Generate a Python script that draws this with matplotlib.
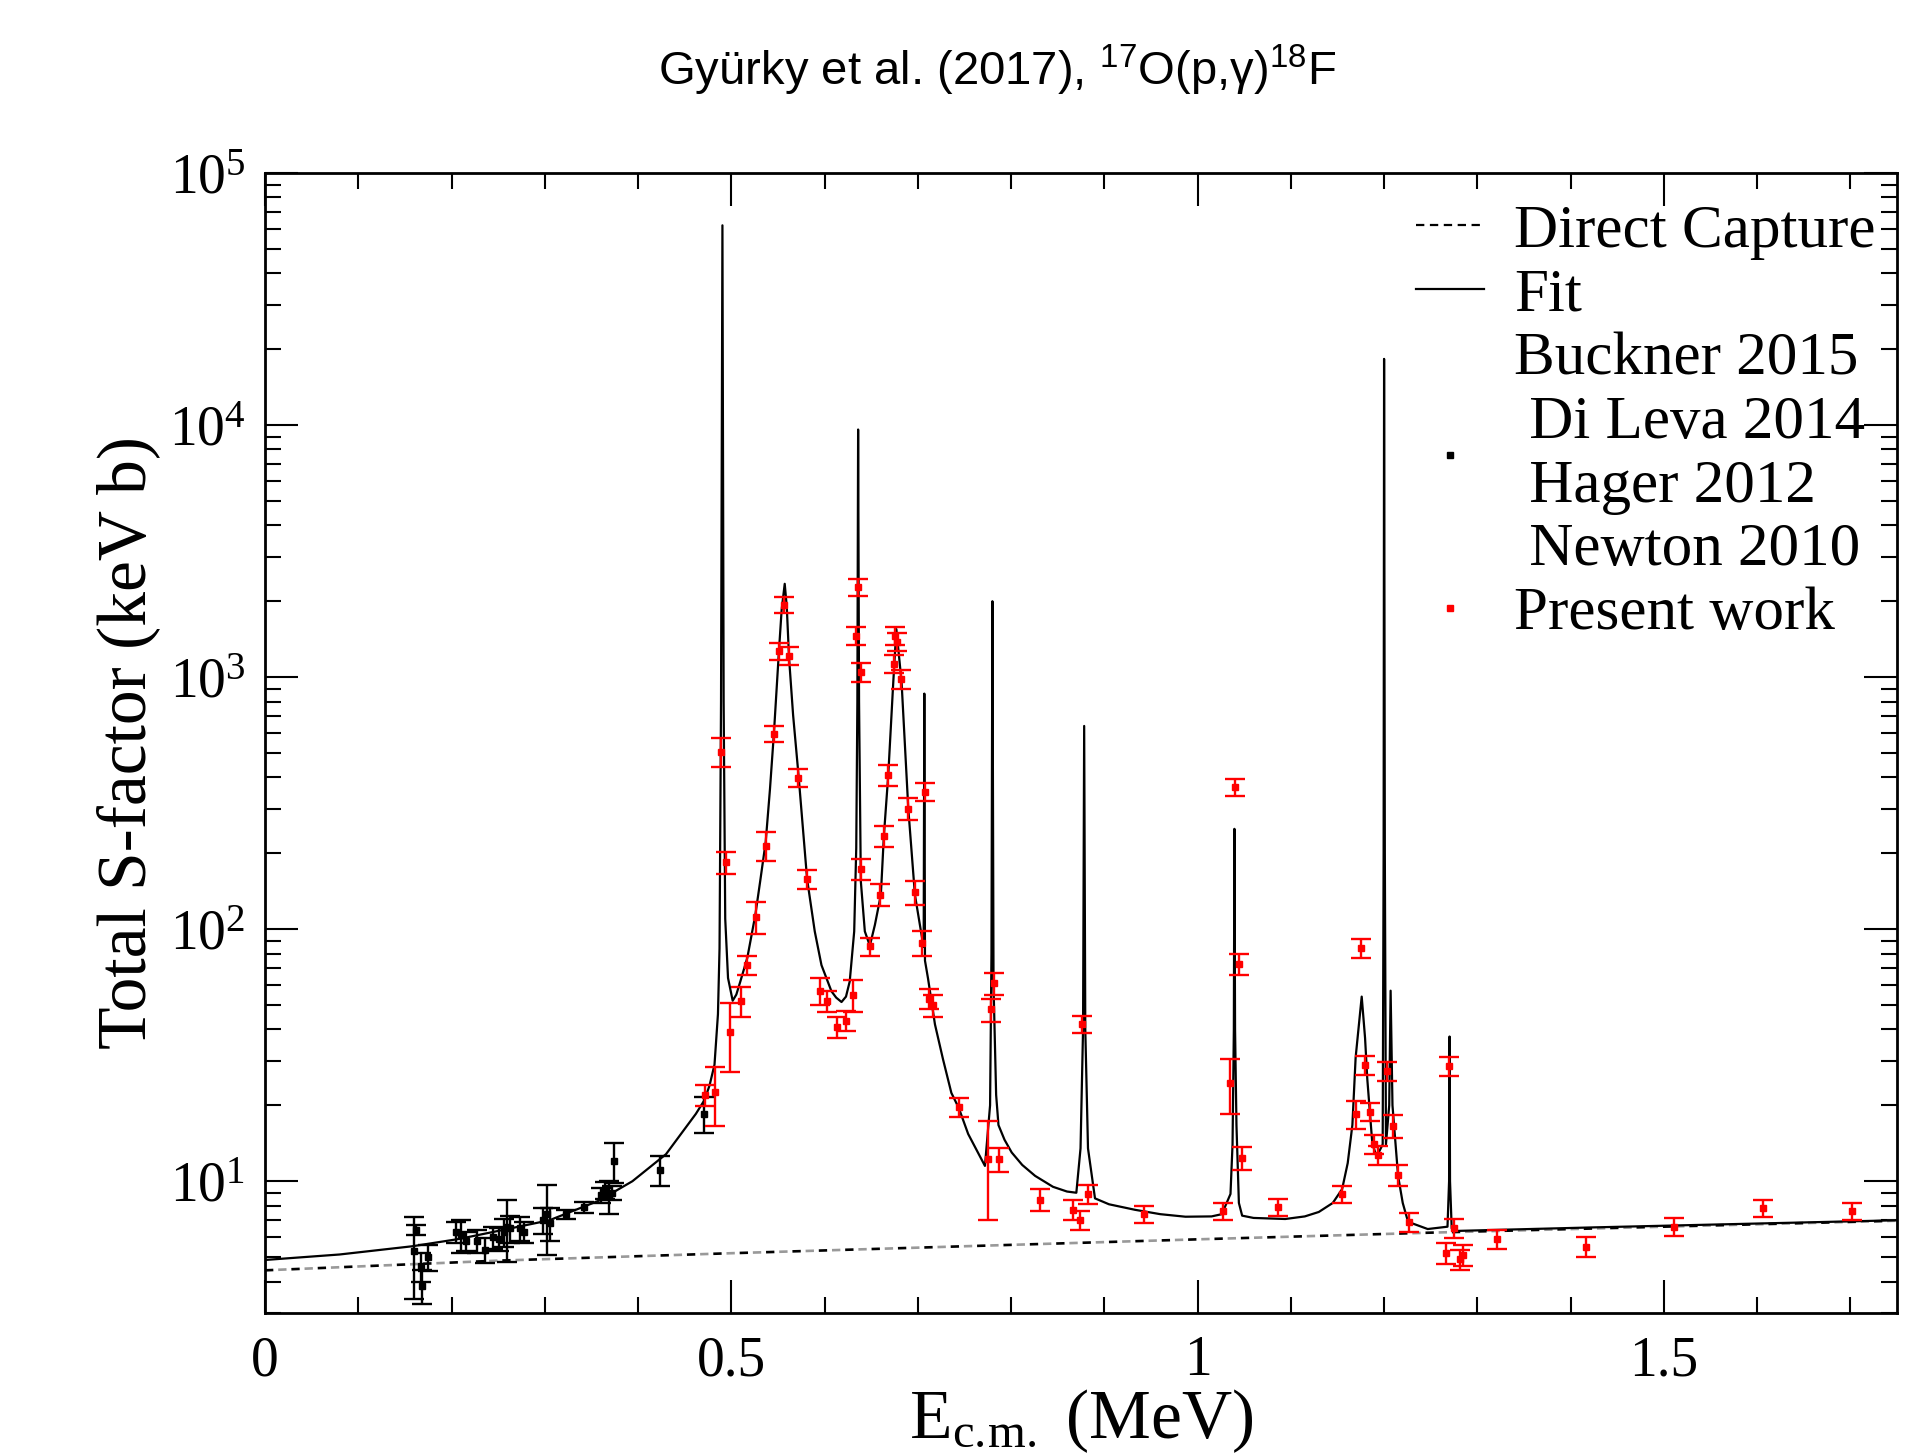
import matplotlib
matplotlib.use("Agg")
import matplotlib.pyplot as plt
from matplotlib.lines import Line2D
from matplotlib.legend_handler import HandlerLine2D
from matplotlib.ticker import MultipleLocator, FuncFormatter, LogLocator

plt.rcParams['font.family'] = ['Liberation Serif', 'DejaVu Serif']
plt.rcParams['mathtext.default'] = 'regular'
plt.rcParams['lines.scale_dashes'] = False

# Direct capture curve
dc_E = [0.00, 0.25, 0.50, 0.75, 1.00, 1.25, 1.50, 1.75]
dc_S = [4.43, 4.84, 5.18, 5.52, 5.88, 6.25, 6.60, 6.97]

# R-matrix fit
fit_E = [0.000, 0.080, 0.158, 0.208, 0.251, 0.305, 0.358, 0.394, 0.430, 0.462,
         0.4713, 0.4767, 0.482, 0.4857, 0.4874, 0.4890, 0.4905, 0.4918, 0.4935, 0.4965,
         0.5015, 0.5054, 0.5097, 0.5172, 0.5258, 0.5310, 0.5369, 0.5415, 0.5458, 0.5508,
         0.5540, 0.5573, 0.5595, 0.5620, 0.5663, 0.5723, 0.5813, 0.5895, 0.5967, 0.6074,
         0.6125, 0.6182, 0.6230, 0.6270, 0.6318, 0.6340, 0.6352, 0.6360, 0.6370, 0.6389,
         0.6432, 0.6486, 0.6540, 0.6604, 0.6636, 0.6683, 0.6737, 0.6770, 0.6826, 0.6898,
         0.6969, 0.7040, 0.7063, 0.7070, 0.7077, 0.7110, 0.7184, 0.7270, 0.7360, 0.7440,
         0.7540, 0.7630, 0.7720, 0.7775, 0.7790, 0.7800, 0.7812, 0.7840, 0.7865, 0.7930,
         0.8007, 0.8120, 0.8258, 0.8450, 0.8600, 0.8700, 0.8745, 0.8772, 0.8784, 0.8796,
         0.8825, 0.8900, 0.9050, 0.9330, 0.9600, 0.9870, 1.0150, 1.0260, 1.0353, 1.0375,
         1.0389, 1.0395, 1.0402, 1.0417, 1.0443, 1.0478, 1.0600, 1.0940, 1.1150, 1.1300,
         1.1450, 1.1550, 1.1610, 1.1660, 1.1695, 1.1760, 1.1796, 1.1820, 1.1874, 1.1920,
         1.1985, 1.1995, 1.2000, 1.2008, 1.2020, 1.2055, 1.2070, 1.2090, 1.2150, 1.2200,
         1.2257, 1.2468, 1.2680, 1.2697, 1.2702, 1.2707, 1.2725, 1.2780, 1.4260, 1.7500]
fit_S = [4.87, 5.12, 5.52, 5.90, 6.36, 7.00, 8.37, 10.0, 12.8, 18.5,
         21.0, 24.0, 29.0, 46.0, 84.0, 800, 62000, 800, 110, 64,
         52, 55, 62, 77, 114, 155, 222, 360, 606, 1218,
         1850, 2345, 1900, 1183, 706, 400, 158, 98, 72, 56.7,
         53.5, 51.4, 54, 62, 98, 210, 800, 9600, 800, 155,
         98, 86, 104, 137, 234, 408, 955, 1550, 955, 301,
         137, 95, 85, 860, 75, 63.6, 41.9, 30.5, 22.4, 19.5,
         15.4, 13.3, 11.5, 20, 80, 2000, 60, 22, 16.7, 14.6,
         13.0, 11.6, 10.5, 9.5, 9.1, 9.0, 13.5, 40, 640, 40,
         13.5, 8.55, 8.1, 7.7, 7.4, 7.23, 7.25, 7.4, 8.9, 14,
         40, 250, 40, 16.7, 8.2, 7.3, 7.15, 7.08, 7.25, 7.55,
         8.2, 9.3, 11.8, 16.7, 31, 54, 37, 25.4, 14.1, 12.5,
         14, 200, 18300, 200, 14, 20, 57, 20, 10.5, 8.2,
         6.9, 6.46, 6.6, 10, 37.5, 10, 6.5, 6.35, 6.56, 7.0]

# literature data (black)
lit_E = [0.160, 0.162, 0.167, 0.168, 0.175, 0.205, 0.210, 0.216, 0.227, 0.236,
         0.245, 0.251, 0.256, 0.259, 0.263, 0.273, 0.278, 0.298, 0.302, 0.306,
         0.323, 0.342, 0.360, 0.365, 0.369, 0.372, 0.374, 0.424, 0.471]
lit_S = [5.3, 6.4, 4.6, 3.85, 5.0, 6.3, 6.1, 5.8, 5.8, 5.35,
         6.0, 5.9, 6.3, 6.6, 6.5, 6.5, 6.3, 7.0, 7.4, 6.8,
         7.4, 7.9, 8.8, 9.2, 8.7, 9.0, 12.0, 11.1, 18.5]
lit_err = [1.9, 0.3, 0.6, 0.6, 0.6, 0.6, 0.9, 0.5, 0.6, 0.6,
           0.6, 0.6, 0.8, 1.8, 0.8, 0.7, 0.6, 0.8, 2.3, 1.0,
           0.3, 0.4, 0.6, 0.7, 1.3, 0.6, 2.2, 1.5, 3.0]

# present work (red)
pw_E = [0.472, 0.483, 0.489, 0.494, 0.499, 0.510, 0.517, 0.526, 0.537, 0.546,
        0.551, 0.556, 0.562, 0.572, 0.581, 0.595, 0.603, 0.613, 0.623, 0.631,
        0.634, 0.636, 0.639, 0.6395, 0.649, 0.660, 0.664, 0.668, 0.675, 0.676,
        0.678, 0.682, 0.689, 0.697, 0.704, 0.708, 0.712, 0.716, 0.744, 0.775,
        0.778, 0.782, 0.787, 0.831, 0.866, 0.874, 0.876, 0.883, 0.943, 1.027,
        1.035, 1.040, 1.044, 1.048, 1.086, 1.155, 1.170, 1.175, 1.180, 1.185,
        1.189, 1.194, 1.2035, 1.210, 1.215, 1.227, 1.266, 1.270, 1.275, 1.281,
        1.285, 1.321, 1.417, 1.511, 1.606, 1.702]
pw_S = [22, 22.5, 506, 184, 39, 52, 72, 112, 214, 596,
        1268, 1935, 1213, 399, 158, 57, 52, 41, 43.4, 55,
        1462, 2275, 1048, 173, 85.5, 137, 234, 408, 1130, 1462,
        1380, 986, 301, 140, 88, 351, 53, 50, 19.7, 12.2,
        48, 61, 12.2, 8.45, 7.7, 7.0, 42, 8.9, 7.4, 7.6,
        24.5, 365, 73, 12.4, 7.9, 8.9, 18.5, 84, 28.8, 18.9,
        14, 12.7, 27.4, 16.6, 10.6, 6.9, 5.2, 28.6, 6.5, 4.9,
        5.1, 5.9, 5.5, 6.6, 7.8, 7.6]
pw_err = [2.1, 6.0, 65, 18, 12, 7, 6, 16, 28, 45,
          100, 140, 100, 34, 14, 7, 5, 4, 4, 8,
          120, 170, 90, 17, 7, 14, 22, 38, 95, 120,
          110, 85, 30, 15, 10, 30, 5, 5, 1.7, 5.2,
          5, 6, 1.3, 0.85, 0.7, 0.6, 3.2, 0.8, 0.6, 0.6,
          6, 28, 7, 1.3, 0.6, 0.7, 2.4, 7, 2.5, 1.6,
          1.2, 1.1, 2.4, 1.7, 1.0, 0.6, 0.5, 2.5, 0.55, 0.45,
          0.5, 0.5, 0.5, 0.55, 0.6, 0.6]


class ShiftedHandler(HandlerLine2D):
    # legend marker drawn lower than its text row, as in the original figure
    def __init__(self, dy, **kw):
        super().__init__(**kw)
        self.dy = dy

    def create_artists(self, legend, orig_handle, xdescent, ydescent,
                       width, height, fontsize, trans):
        return super().create_artists(legend, orig_handle, xdescent,
                                      ydescent + self.dy, width, height,
                                      fontsize, trans)


fig = plt.figure(figsize=(19.21, 14.55), dpi=100)
ax = fig.add_axes([265 / 1921, 1 - 1313 / 1455, (1897 - 265) / 1921, (1313 - 173) / 1455])

# direct capture: grey and black dashes alternating
ax.plot(dc_E, dc_S, color='0.6', lw=1.9, linestyle=(9.5, (6, 13)))
ax.plot(dc_E, dc_S, color='black', lw=1.9, linestyle=(0, (6, 13)))
ax.plot(fit_E, fit_S, color='black', lw=1.6)

ebkw = dict(fmt='s', ms=3.8, capsize=7, elinewidth=1.7, capthick=1.7, zorder=3)
ax.errorbar(lit_E, lit_S, yerr=lit_err, color='black', **ebkw)
ax.errorbar(pw_E, pw_S, yerr=pw_err, color='red', **ebkw)

ax.set_yscale('log')
ax.set_xlim(0, 1.75)
ax.set_ylim(3, 1e5)

ax.xaxis.set_major_locator(MultipleLocator(0.5))
ax.xaxis.set_minor_locator(MultipleLocator(0.1))
ax.xaxis.set_major_formatter(FuncFormatter(lambda v, p: '%g' % v))
ax.yaxis.set_major_locator(LogLocator(base=10))
ax.yaxis.set_minor_locator(LogLocator(base=10, subs=range(2, 10)))

ax.tick_params(which='both', direction='in', top=True, right=True, width=1.5)
ax.tick_params(which='major', length=24, labelsize=40)
ax.tick_params(axis='x', which='major', pad=16)
ax.tick_params(axis='y', which='major', pad=14)
ax.tick_params(which='minor', length=11.5)
for sp in ax.spines.values():
    sp.set_linewidth(2)

ax.set_xlabel(r'E$_{c.\!m.}$ (MeV)', fontsize=50, labelpad=0)
ax.set_ylabel('Total S-factor (keV b)', fontsize=50, labelpad=6)

dot_black = Line2D([], [], color='black', marker='s', ms=4, linestyle='none')
handles = [
    Line2D([], [], color='black', lw=1.6, linestyle=(0, (6, 4))),
    Line2D([], [], color='black', lw=1.6),
    Line2D([], [], linestyle='none'),
    dot_black,
    Line2D([], [], linestyle='none'),
    Line2D([], [], linestyle='none'),
    Line2D([], [], color='red', marker='s', ms=4, linestyle='none'),
]
labels = ['Direct Capture', 'Fit', 'Buckner 2015', ' Di Leva 2014',
          ' Hager 2012', ' Newton 2010', 'Present work']
ax.legend(handles, labels, loc='upper right', bbox_to_anchor=(0.9869, 0.9728),
          frameon=False, fontsize=44, borderpad=0, borderaxespad=0,
          handlelength=1.1, handletextpad=0.5, labelspacing=0.13,
          handler_map={dot_black: ShiftedHandler(56)})

fig.text(997 / 1921, 1 - 70 / 1455,
         r'Gyürky et al. (2017), $^{17}$O(p,γ)$^{18}$F',
         ha='center', va='center', fontsize=34, family=['Liberation Sans', 'DejaVu Sans'])

fig.savefig('out.png', dpi=100)
